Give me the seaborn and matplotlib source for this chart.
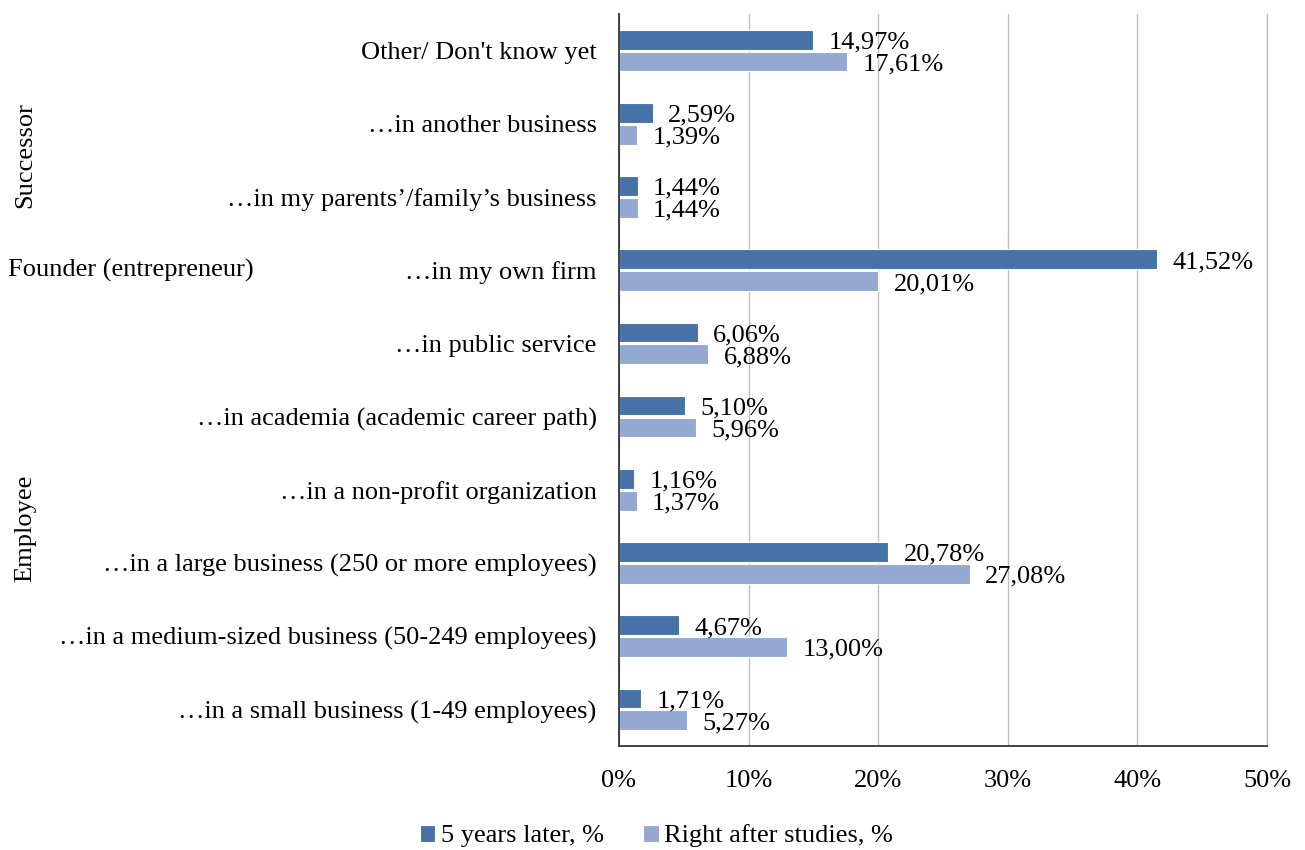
import matplotlib
matplotlib.use("Agg")
import matplotlib.pyplot as plt
import seaborn as sns
import pandas as pd

categories = [
    "Other/ Don't know yet",
    "\u2026in another business",
    "\u2026in my parents\u2019/family\u2019s business",
    "\u2026in my own firm",
    "\u2026in public service",
    "\u2026in academia (academic career path)",
    "\u2026in a non-profit organization",
    "\u2026in a large business (250 or more employees)",
    "\u2026in a medium-sized business (50-249 employees)",
    "\u2026in a small business (1-49 employees)",
]
five_years_later = [14.97, 2.59, 1.44, 41.52, 6.06, 5.10, 1.16, 20.78, 4.67, 1.71]
right_after_studies = [17.61, 1.39, 1.44, 20.01, 6.88, 5.96, 1.37, 27.08, 13.00, 5.27]
series_names = ["5 years later, %", "Right after studies, %"]
x_ticks = [0, 10, 20, 30, 40, 50]

df = pd.DataFrame({
    "category": categories * 2,
    "value": five_years_later + right_after_studies,
    "series": [series_names[0]] * len(categories) + [series_names[1]] * len(categories),
})

FS = 19

sns.set_theme(style="white")
plt.rcParams["font.family"] = ["Liberation Serif", "DejaVu Serif"]
plt.rcParams["text.color"] = "black"
plt.rcParams["xtick.color"] = "black"
plt.rcParams["ytick.color"] = "black"

fig = plt.figure(figsize=(13.05, 8.5), dpi=100)
ax = fig.add_axes([0.4743, 0.1224, 0.4966, 0.8611])

palette = {series_names[0]: "#4672A7", series_names[1]: "#94A9D1"}
sns.barplot(data=df, y="category", x="value", hue="series", order=categories,
            hue_order=series_names, palette=palette, orient="h", width=0.6,
            gap=0.1, edgecolor="white", linewidth=0.8, saturation=1,
            legend=True, ax=ax)

# value labels to the right of each bar
for cont in ax.containers:
    for patch, v in zip(cont.patches, cont.datavalues):
        ax.annotate(f"{v:.2f}%".replace(".", ","),
                    xy=(patch.get_x() + patch.get_width(),
                        patch.get_y() + patch.get_height() / 2),
                    xytext=(11, -2), textcoords="offset points",
                    ha="left", va="center", fontsize=FS, color="black")

ax.set_xlim(0, 50)
ax.set_xticks(x_ticks)
ax.set_xticklabels([f"{t}%" for t in x_ticks], fontsize=FS)
ax.tick_params(axis="x", length=0, pad=17)
ax.tick_params(axis="y", length=0, pad=16, labelsize=FS)
ax.set_xlabel("")
ax.set_ylabel("")
ax.xaxis.grid(True, color="#BFBFBF", linewidth=1)
ax.set_axisbelow(True)
ax.spines["top"].set_visible(False)
ax.spines["right"].set_color("#BFBFBF")
ax.spines["right"].set_linewidth(1)
for s in ["left", "bottom"]:
    ax.spines[s].set_color("#333333")
    ax.spines[s].set_linewidth(1.3)

# group labels on the left
fig.text(25 / 1305, 1 - 155 / 850, "Successor", rotation=90, fontsize=FS,
         ha="center", va="center")
fig.text(8 / 1305, 1 - 270 / 850, "Founder (entrepreneur)", fontsize=FS,
         ha="left", va="center")
fig.text(25 / 1305, 1 - 528 / 850, "Employee", rotation=90, fontsize=FS,
         ha="center", va="center")

handles, labels = ax.get_legend_handles_labels()
ax.legend_.remove()
fig.legend(handles, labels, loc="center", bbox_to_anchor=(0.503, 1 - 836 / 850),
           ncol=2, frameon=False, fontsize=FS, handlelength=0.6, handleheight=0.6,
           handletextpad=0.2, columnspacing=1.5)

fig.savefig("out.png", dpi=100)
